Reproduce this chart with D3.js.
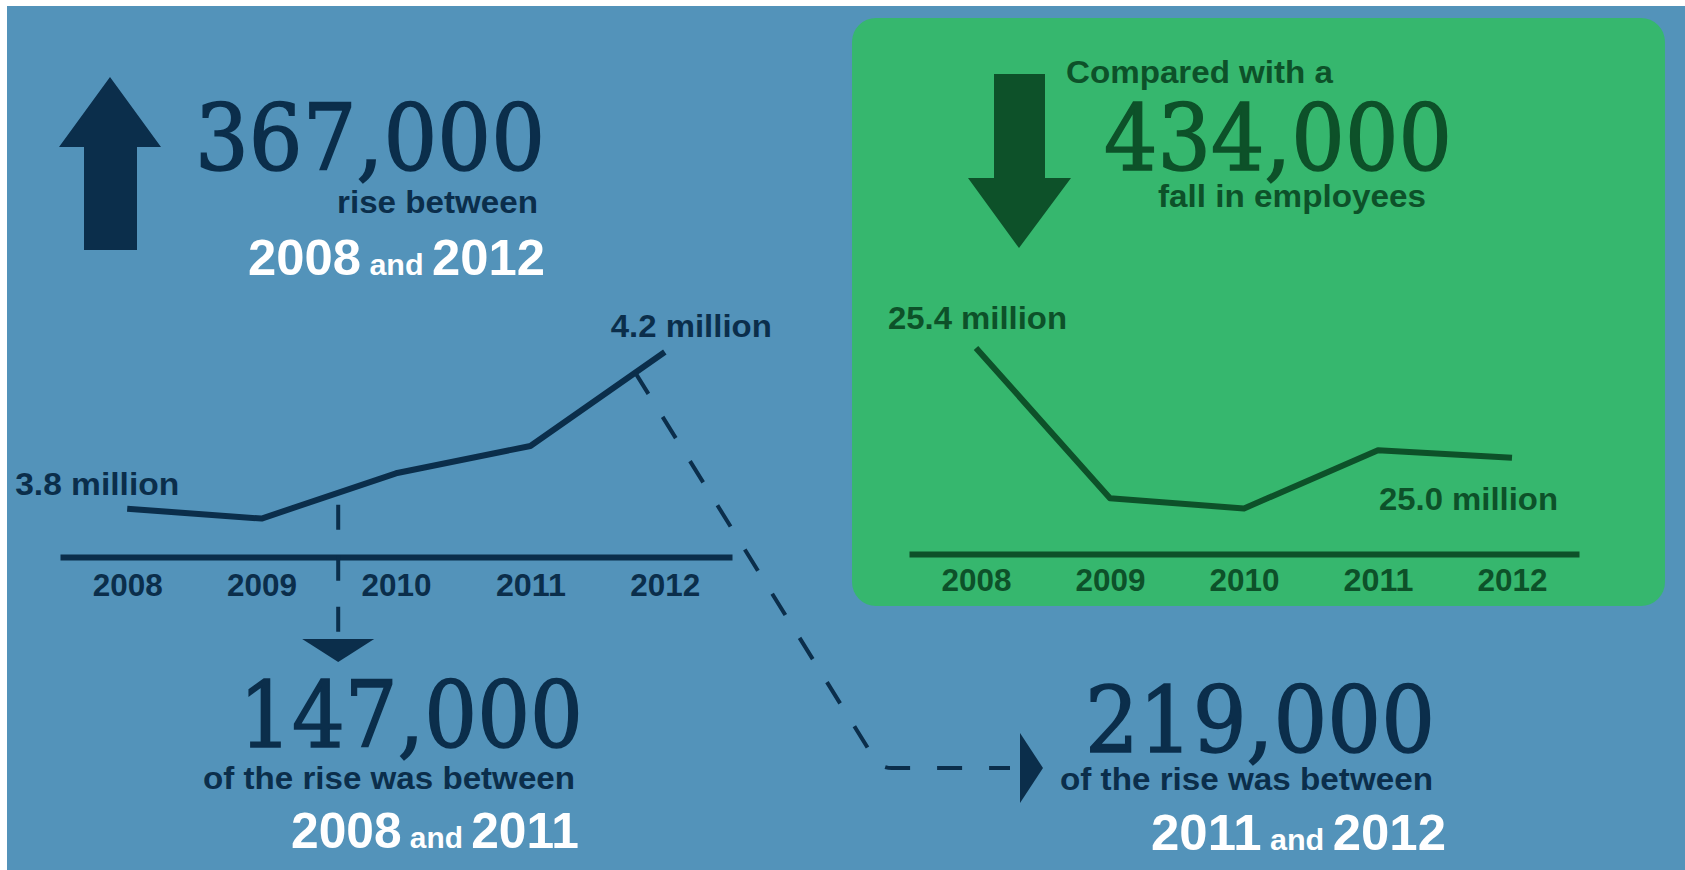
<!DOCTYPE html>
<html>
<head>
<meta charset="utf-8">
<script src="https://cdn.jsdelivr.net/npm/d3@7"></script>
<style>
  html, body { margin: 0; padding: 0; background: #ffffff; }
  svg { display: block; }
</style>
</head>
<body>
<script>
// Self-employed vs employees, 2008–2012 (millions)
const years = ["2008", "2009", "2010", "2011", "2012"];
const selfEmployed = [3.833, 3.810, 3.916, 3.980, 4.200];
const employees = [25.434, 24.84, 24.80, 25.03, 25.00];

// Headline changes
const riseTotal = 367000;
const riseTo2011 = 147000;
const rise2011to2012 = 219000;
const fallEmployees = 434000;

const W = 1685, H = 870;
const BLUE = "#5393ba", GREEN = "#36b76e";
const NAVY = "#0b2e4b", DKGREEN = "#0d5129", WHITE = "#ffffff";
const SANS = "'Liberation Sans', Arial, sans-serif";
const SERIF = "'DejaVu Serif', serif";

const fmtInt = d3.format(",");
const fmtM = d3.format(".1f");

const svg = d3.select("body").append("svg")
  .attr("width", W).attr("height", H);

// backgrounds
svg.append("rect").attr("width", W).attr("height", H).attr("fill", WHITE);
svg.append("rect").attr("x", 7).attr("y", 6).attr("width", W - 7).attr("height", H - 6).attr("fill", BLUE);
svg.append("rect").attr("x", 852).attr("y", 18).attr("width", 813).attr("height", 588)
  .attr("rx", 24).attr("fill", GREEN);

// text helper: parts = [[string, size], ...]
function label(opts) {
  const t = svg.append("text")
    .attr("x", opts.x).attr("y", opts.y)
    .attr("text-anchor", opts.anchor || "start")
    .attr("font-family", opts.family || SANS)
    .attr("font-weight", opts.weight || "bold")
    .attr("fill", opts.fill);
  if (opts.stroke) t.attr("stroke", opts.fill).attr("stroke-width", opts.stroke);
  if (opts.len) t.attr("textLength", opts.len).attr("lengthAdjust", "spacingAndGlyphs");
  opts.parts.forEach(([s, size]) => {
    t.append("tspan").attr("font-size", size).text(s);
  });
  return t;
}

// ---------- arrows ----------
svg.append("path")
  .attr("d", "M110,77 L161,147 L137,147 L137,250 L84,250 L84,147 L59,147 Z")
  .attr("fill", NAVY);
svg.append("path")
  .attr("d", "M994,74 L1045,74 L1045,178 L1071,178 L1019,248 L968,178 L994,178 Z")
  .attr("fill", DKGREEN);

// ---------- left chart: self-employed ----------
const xL = d3.scalePoint().domain(years).range([60, 732]).padding(0.5);
const yL = d3.scaleLinear().domain([3.72, 4.2]).range([557, 352]);

const axL = svg.append("g").attr("transform", "translate(0,557)")
  .call(d3.axisBottom(xL).tickSize(0).tickSizeOuter(0));
axL.select(".domain").attr("stroke", NAVY).attr("stroke-width", 6);
axL.selectAll(".tick text")
  .attr("y", 39).attr("dy", null)
  .attr("font-family", SANS).attr("font-weight", "bold").attr("font-size", 31)
  .attr("fill", NAVY)
  .attr("textLength", 70).attr("lengthAdjust", "spacingAndGlyphs");

const lineL = d3.line().x((d, i) => xL(years[i])).y(d => yL(d));
svg.append("path").datum(selfEmployed)
  .attr("d", lineL).attr("fill", "none")
  .attr("stroke", NAVY).attr("stroke-width", 6).attr("stroke-linejoin", "round");

// connectors from the line down to the split figures
const stepL = xL.step();
const vx = xL("2009") + 0.57 * stepL;
const vyLine = yL(selfEmployed[1] + 0.57 * (selfEmployed[2] - selfEmployed[1]));
svg.append("path")
  .attr("d", `M${vx},${vyLine + 12} L${vx},636`)
  .attr("stroke", NAVY).attr("stroke-width", 4).attr("fill", "none")
  .attr("stroke-dasharray", "25,26");
svg.append("path")
  .attr("d", `M${vx - 36},639 L${vx + 36},639 L${vx},662 Z`).attr("fill", NAVY);

const f = 0.78;
const dx0 = xL("2011") + f * stepL;
const dy0 = yL(selfEmployed[3] + f * (selfEmployed[4] - selfEmployed[3]));
svg.append("path")
  .attr("d", `M${dx0},${dy0} L874,758 Q880,768 892,768 L1010,768`)
  .attr("stroke", NAVY).attr("stroke-width", 4).attr("fill", "none")
  .attr("stroke-dasharray", "25,27");
svg.append("path").attr("d", "M1020,733 L1043,768 L1020,803 Z").attr("fill", NAVY);

// value labels
label({ x: xL("2008") + 52, y: yL(selfEmployed[0]) - 14, anchor: "end", fill: NAVY, len: 164,
  parts: [[fmtM(selfEmployed[0]) + " million", 31]] });
label({ x: xL("2012") + 107, y: yL(selfEmployed[4]) - 15, anchor: "end", fill: NAVY, len: 161,
  parts: [[fmtM(selfEmployed[4]) + " million", 31]] });

// headline: total rise
label({ x: 545, y: 170, anchor: "end", family: SERIF, weight: "normal", fill: NAVY, len: 350, stroke: 1.6,
  parts: [[fmtInt(riseTotal), 92]] });
label({ x: 538, y: 213, anchor: "end", fill: NAVY, len: 201, parts: [["rise between", 31]] });
label({ x: 545, y: 275, anchor: "end", fill: WHITE, len: 297,
  parts: [["2008", 50], [" and ", 30], ["2012", 50]] });

// split: 2008–2011
label({ x: 583, y: 747, anchor: "end", family: SERIF, weight: "normal", fill: NAVY, len: 344, stroke: 1.6,
  parts: [[fmtInt(riseTo2011), 92]] });
label({ x: 575, y: 789, anchor: "end", fill: NAVY, len: 372, parts: [["of the rise was between", 31]] });
label({ x: 579, y: 848, anchor: "end", fill: WHITE, len: 288,
  parts: [["2008", 50], [" and ", 30], ["2011", 50]] });

// split: 2011–2012
label({ x: 1435, y: 752, anchor: "end", family: SERIF, weight: "normal", fill: NAVY, len: 350, stroke: 1.6,
  parts: [[fmtInt(rise2011to2012), 92]] });
label({ x: 1433, y: 790, anchor: "end", fill: NAVY, len: 373, parts: [["of the rise was between", 31]] });
label({ x: 1446, y: 850, anchor: "end", fill: WHITE, len: 295,
  parts: [["2011", 50], [" and ", 30], ["2012", 50]] });

// ---------- right chart: employees ----------
const xR = d3.scalePoint().domain(years).range([909, 1579]).padding(0.5);
const yR = d3.scaleLinear().domain([24.62, 25.434]).range([554, 348]);

const axR = svg.append("g").attr("transform", "translate(0,554)")
  .call(d3.axisBottom(xR).tickSize(0).tickSizeOuter(0));
axR.select(".domain").attr("stroke", DKGREEN).attr("stroke-width", 6);
axR.selectAll(".tick text")
  .attr("y", 37).attr("dy", null)
  .attr("font-family", SANS).attr("font-weight", "bold").attr("font-size", 31)
  .attr("fill", DKGREEN)
  .attr("textLength", 70).attr("lengthAdjust", "spacingAndGlyphs");

const lineR = d3.line().x((d, i) => xR(years[i])).y(d => yR(d));
svg.append("path").datum(employees)
  .attr("d", lineR).attr("fill", "none")
  .attr("stroke", DKGREEN).attr("stroke-width", 6).attr("stroke-linejoin", "round");

label({ x: xR("2008") + 91, y: yR(employees[0]) - 19, anchor: "end", fill: DKGREEN, len: 179,
  parts: [[fmtM(employees[0]) + " million", 31]] });
label({ x: xR("2012") + 46, y: yR(employees[4]) + 52, anchor: "end", fill: DKGREEN, len: 179,
  parts: [[fmtM(employees[4]) + " million", 31]] });

label({ x: 1066, y: 83, fill: DKGREEN, len: 267, parts: [["Compared with a", 31]] });
label({ x: 1104, y: 170, family: SERIF, weight: "normal", fill: DKGREEN, len: 348, stroke: 1.6,
  parts: [[fmtInt(fallEmployees), 92]] });
label({ x: 1158, y: 207, fill: DKGREEN, len: 268, parts: [["fall in employees", 31]] });
</script>
</body>
</html>
